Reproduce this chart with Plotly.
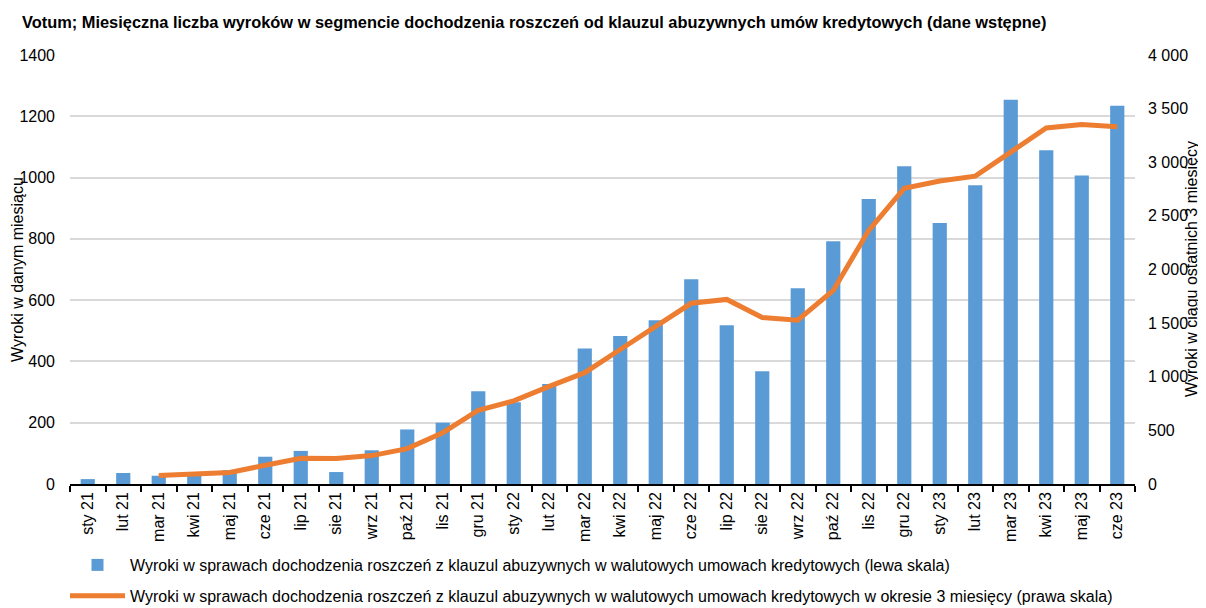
import plotly.graph_objects as go

months = ["sty 21","lut 21","mar 21","kwi 21","maj 21","cze 21","lip 21","sie 21","wrz 21","paź 21","lis 21","gru 21",
          "sty 22","lut 22","mar 22","kwi 22","maj 22","cze 22","lip 22","sie 22","wrz 22","paź 22","lis 22","gru 22",
          "sty 23","lut 23","mar 23","kwi 23","maj 23","cze 23"]
monthly = [16, 36, 27, 35, 45, 89, 108, 39, 110, 178, 200, 303,
           267, 326, 442, 483, 534, 668, 518, 368, 639, 792, 930, 1037,
           852, 975, 1254, 1089, 1007, 1234]
rolling3 = [None, None, 79, 98, 107, 175, 240, 238, 265, 330, 478, 688,
            775, 910, 1038, 1254, 1465, 1685, 1721, 1552, 1528, 1805, 2365, 2757,
            2825, 2870, 3095, 3320, 3352, 3332]
left_ticks = [0, 200, 400, 600, 800, 1000, 1200, 1400]
right_ticks = [0, 500, 1000, 1500, 2000, 2500, 3000, 3500, 4000]
right_ticktext = ["0", "500", "1 000", "1 500", "2 000", "2 500", "3 000", "3 500", "4 000"]

title = "Votum; Miesięczna liczba wyroków w segmencie dochodzenia roszczeń od klauzul abuzywnych umów kredytowych (dane wstępne)"
bar_name = "Wyroki w sprawach dochodzenia roszczeń z klauzul abuzywnych w walutowych umowach kredytowych (lewa skala)"
line_name = "Wyroki w sprawach dochodzenia roszczeń z klauzul abuzywnych w walutowych umowach kredytowych w okresie 3 miesięcy (prawa skala)"
left_title = "Wyroki w danym miesiącu"
right_title = "Wyroki w ciągu ostatnich 3 miesięcy"

FONT = "Liberation Sans Narrow, Arial Narrow, Liberation Sans, Arial, sans-serif"

# page body has an 8px margin, so the figure is drawn 8px in from the top-left
W, H = 1198, 600
L, R, T, B = 62, 71, 47, 124
PW, PH = W - L - R, H - T - B

fig = go.Figure()
fig.add_trace(go.Bar(x=months, y=monthly, name=bar_name, legendgroup="a",
                     marker=dict(color="#5B9BD5", line=dict(width=0)), yaxis="y"))
fig.add_trace(go.Scatter(x=months, y=rolling3, name=line_name, mode="lines", legendgroup="b",
                         line=dict(color="#ED7D31", width=5), yaxis="y2"))

fig.update_layout(
    width=W, height=H,
    paper_bgcolor="white", plot_bgcolor="white",
    font=dict(family=FONT, size=16, color="black"),
    margin=dict(l=L, r=R, t=T, b=B, autoexpand=False),
    bargap=0.6,
    title=dict(text="<b>" + title + "</b>", x=14 / W, xanchor="left", y=1 - 14 / H, yanchor="middle",
               font=dict(family=FONT, size=16.4, color="black")),
    xaxis=dict(type="category", tickangle=-90, tickson="boundaries", ticks="outside", ticklen=6,
               tickcolor="black", tickwidth=1.5, showline=True, linecolor="black", linewidth=1.5,
               showgrid=False, tickfont=dict(size=16), automargin=False),
    yaxis=dict(range=[0, 1400], tickvals=left_ticks, showgrid=True, gridcolor="#D9D9D9", gridwidth=1.5,
               zeroline=False, showline=False, ticks="", tickfont=dict(size=16), ticklabelstandoff=14,
               automargin=False),
    yaxis2=dict(range=[0, 4000], tickvals=right_ticks, ticktext=right_ticktext, overlaying="y", side="right",
                showgrid=False, zeroline=False, ticks="", tickfont=dict(size=16), ticklabelstandoff=12,
                automargin=False),
    legend=dict(orientation="v", x=-5 / PW, xanchor="left", y=-64 / PH, yanchor="top",
                font=dict(size=16), tracegroupgap=7, traceorder="grouped", itemwidth=55),
    showlegend=True,
    annotations=[
        dict(text=left_title, textangle=-90, xref="paper", yref="paper",
             x=-(L - 9) / PW, y=(H - B - 262) / PH,
             xanchor="center", yanchor="middle", showarrow=False, font=dict(size=16)),
        dict(text=right_title, textangle=-90, xref="paper", yref="paper",
             x=1 + (1183 - (W - R)) / PW, y=(H - B - 261) / PH,
             xanchor="center", yanchor="middle", showarrow=False, font=dict(size=16)),
    ],
)

fig.write_html("out.html")
